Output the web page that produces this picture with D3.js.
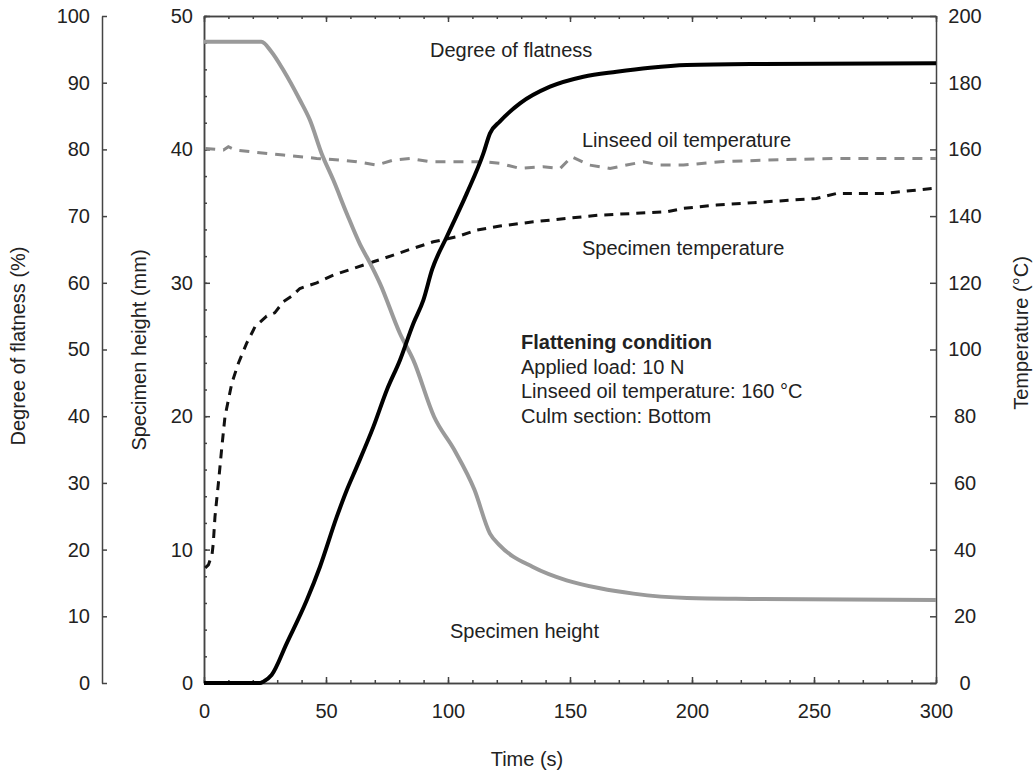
<!DOCTYPE html>
<html>
<head>
<meta charset="utf-8">
<script src="https://cdn.jsdelivr.net/npm/d3@7"></script>
<style>
  html, body { margin: 0; padding: 0; background: #fff; }
  svg { display: block; font-family: "Liberation Sans", Arial, sans-serif; }
  .axis text { font-size: 20px; fill: #222; font-family: "Liberation Sans", Arial, sans-serif; }
  .axis path, .axis line { stroke: #444; stroke-width: 1.5; }
  .lbl { font-size: 20px; fill: #222; }
</style>
</head>
<body>
<svg id="chart" width="1035" height="774"></svg>
<script>
// Flattening test record: time in seconds against four measured quantities.

// Specimen height (mm)
const heightTime = [0, 23.5, 27.7, 32.5, 39.3, 43.4, 48.2, 53, 58.5, 63.9, 68, 72.1, 80.3, 85.8, 94.3, 102.5, 110.8, 117.2, 121.3, 134.8, 148.6, 162.3, 176, 198, 224, 300];
const heightMm   = [48.07, 48.07, 47.3, 45.95, 43.7, 42.2, 39.7, 37.7, 35.2, 32.9, 31.5, 29.96, 26.2, 24.2, 19.96, 17.5, 14.5, 11.2, 10.3, 8.7, 7.7, 7.1, 6.7, 6.37, 6.3, 6.22];

// Degree of flatness (%)
const flatTime = [0, 23, 24.3, 27.7, 33.9, 42.1, 47.5, 54.4, 58.5, 62.6, 69.4, 74.9, 80.3, 85.8, 89.9, 93.5, 99.5, 107.7, 114.5, 117.2, 121.3, 129.5, 141.8, 155.5, 169.1, 182.8, 197.8, 224, 300];
const flatPct  = [0, 0, 0.2, 1.2, 5.95, 12.4, 17.4, 24.9, 28.9, 32.4, 38.4, 43.9, 48.4, 53.9, 57.4, 62, 66.9, 73.4, 79.4, 82.4, 84.2, 86.9, 89.4, 90.9, 91.65, 92.25, 92.65, 92.8, 92.9];

// Linseed oil temperature (°C)
const oilTime = [0.5, 8, 10, 13, 19, 32.5, 46.2, 55.7, 62.6, 70.8, 77.6, 84.4, 92.6, 100.8, 114.5, 121.3, 129.5, 139, 146, 150.7, 158, 166.4, 173.2, 180, 187, 196.5, 211.6, 230.6, 258, 300];
const oilTemp = [160.3, 159.8, 160.8, 159.8, 159.3, 158.3, 157.3, 156.8, 156.3, 155.3, 156.8, 157.3, 156.3, 156.3, 156.3, 155.8, 154.3, 154.8, 154.3, 157.8, 155.3, 154.3, 155.3, 156.3, 155.3, 155.3, 156.3, 156.8, 157.3, 157.3];

// Specimen temperature (°C)
const specTime = [0.5, 1.8, 3.3, 3.8, 4.5, 5.9, 7.2, 8.6, 11.4, 14.1, 17.5, 20.9, 25.7, 29, 32.5, 36, 39.3, 46.2, 53, 61.2, 69.4, 77.6, 83.5, 94, 103.6, 111.8, 121.3, 135, 148.6, 162.3, 176, 189.6, 196.4, 210, 230.6, 251, 259.3, 278.4, 298.9];
const specTemp = [34.5, 35.4, 38.5, 41.9, 49.9, 59.9, 69.9, 79.9, 89.9, 95.9, 101.9, 106.8, 110, 111, 114.3, 116, 118.3, 120, 122.3, 124.3, 126.3, 128.3, 129.8, 132.3, 133.8, 135.8, 137, 138.3, 139.3, 140.3, 140.8, 141.3, 142.3, 143.3, 144.3, 145.3, 146.8, 146.8, 148.3];

// Axis ticks
const timeTicks = [0, 50, 100, 150, 200, 250, 300];
const pctTicks = [0, 10, 20, 30, 40, 50, 60, 70, 80, 90, 100];
const mmTicks = [0, 10, 20, 30, 40, 50];
const tempTicks = [0, 20, 40, 60, 80, 100, 120, 140, 160, 180, 200];

const svg = d3.select("#chart");

const plot = { left: 204, right: 936, top: 16, bottom: 683 };
const pctAxisX = 102;

const x = d3.scaleLinear().domain([0, 300]).range([plot.left, plot.right]);
const yPct = d3.scaleLinear().domain([0, 100]).range([plot.bottom, plot.top]);
const yMm = d3.scaleLinear().domain([0, 50]).range([plot.bottom, plot.top]);
const yTemp = d3.scaleLinear().domain([0, 200]).range([plot.bottom, plot.top]);

// Frame: bottom and top time axes with inward ticks
svg.append("g").attr("class", "axis")
  .attr("transform", `translate(0,${plot.bottom})`)
  .call(d3.axisBottom(x).tickValues(d3.range(0, 301, 10)).tickSize(-3).tickSizeOuter(0).tickFormat(""));
svg.append("g").attr("class", "axis")
  .attr("transform", `translate(0,${plot.bottom})`)
  .call(d3.axisBottom(x).tickValues(timeTicks).tickSize(-6).tickSizeOuter(0).tickPadding(21).tickFormat(d3.format("d")));
svg.append("g").attr("class", "axis")
  .attr("transform", `translate(0,${plot.top})`)
  .call(d3.axisTop(x).tickValues(d3.range(0, 301, 10)).tickSize(-3).tickSizeOuter(0).tickFormat(""));
svg.append("g").attr("class", "axis")
  .attr("transform", `translate(0,${plot.top})`)
  .call(d3.axisTop(x).tickValues(timeTicks).tickSize(-6).tickSizeOuter(0).tickFormat(""));

// Specimen height axis (left edge of frame)
svg.append("g").attr("class", "axis")
  .attr("transform", `translate(${plot.left},0)`)
  .call(d3.axisLeft(yMm).tickValues(d3.range(0, 51, 2)).tickSize(-3).tickSizeOuter(0).tickFormat(""));
svg.append("g").attr("class", "axis")
  .attr("transform", `translate(${plot.left},0)`)
  .call(d3.axisLeft(yMm).tickValues(mmTicks).tickSize(-6).tickSizeOuter(0).tickPadding(11).tickFormat(d3.format("d")));

// Degree of flatness axis (detached, further left)
svg.append("g").attr("class", "axis")
  .attr("transform", `translate(${pctAxisX},0)`)
  .call(d3.axisLeft(yPct).tickValues(pctTicks).tickSize(-5).tickSizeOuter(0).tickPadding(12).tickFormat(d3.format("d")));

// Temperature axis (right edge of frame)
const rightAxis = svg.append("g").attr("class", "axis")
  .attr("transform", `translate(${plot.right},0)`)
  .call(d3.axisRight(yTemp).tickValues(tempTicks).tickSize(-6).tickSizeOuter(0).tickFormat(d3.format("d")));
rightAxis.selectAll(".tick text").attr("text-anchor", "middle").attr("x", 29);

// Axis titles
svg.append("text").attr("class", "lbl")
  .attr("transform", "translate(25,346) rotate(-90)")
  .attr("text-anchor", "middle").text("Degree of flatness (%)");
svg.append("text").attr("class", "lbl")
  .attr("transform", "translate(146,350) rotate(-90)")
  .attr("text-anchor", "middle").text("Specimen height (mm)");
svg.append("text").attr("class", "lbl")
  .attr("transform", "translate(1028,333) rotate(-90)")
  .attr("text-anchor", "middle").text("Temperature (°C)");
svg.append("text").attr("class", "lbl")
  .attr("x", 527).attr("y", 766)
  .attr("text-anchor", "middle").text("Time (s)");

// Series
const pairs = (ts, vs) => ts.map((t, i) => [t, vs[i]]);

const lineOf = (yScale) => d3.line()
  .x(d => x(d[0]))
  .y(d => yScale(d[1]));

svg.append("path")
  .datum(pairs(oilTime, oilTemp))
  .attr("d", lineOf(yTemp))
  .attr("fill", "none").attr("stroke", "#8a8a8a").attr("stroke-width", 3)
  .attr("stroke-dasharray", "10,8");

svg.append("path")
  .datum(pairs(specTime, specTemp))
  .attr("d", lineOf(yTemp))
  .attr("fill", "none").attr("stroke", "#111").attr("stroke-width", 3)
  .attr("stroke-dasharray", "9,7");

svg.append("path")
  .datum(pairs(heightTime, heightMm))
  .attr("d", lineOf(yMm).curve(d3.curveMonotoneX))
  .attr("fill", "none").attr("stroke", "#9a9a9a").attr("stroke-width", 4)
  .attr("stroke-linejoin", "round");

svg.append("path")
  .datum(pairs(flatTime, flatPct))
  .attr("d", lineOf(yPct).curve(d3.curveMonotoneX))
  .attr("fill", "none").attr("stroke", "#000").attr("stroke-width", 4)
  .attr("stroke-linejoin", "round");

// Series labels
const labels = [
  { text: "Degree of flatness", x: 430, y: 57 },
  { text: "Linseed oil temperature", x: 582, y: 147 },
  { text: "Specimen temperature", x: 582, y: 255 },
  { text: "Specimen height", x: 450, y: 638 }
];
svg.selectAll("text.series").data(labels).join("text")
  .attr("class", "lbl series")
  .attr("x", d => d.x).attr("y", d => d.y)
  .text(d => d.text);

// Test conditions note
const note = svg.append("text").attr("class", "lbl").attr("x", 521).attr("y", 349);
note.append("tspan").attr("font-weight", "bold").text("Flattening condition");
["Applied load: 10 N", "Linseed oil temperature: 160 °C", "Culm section: Bottom"].forEach(s => {
  note.append("tspan").attr("x", 521).attr("dy", 24.5).text(s);
});
</script>
</body>
</html>
